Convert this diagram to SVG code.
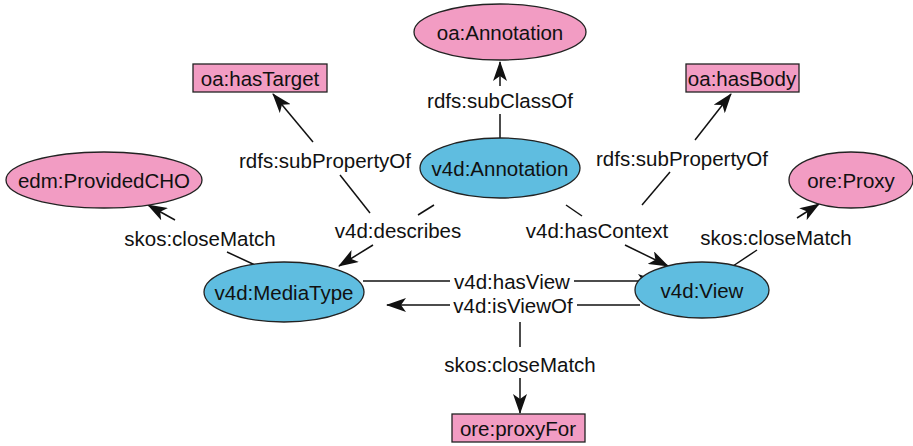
<svg xmlns="http://www.w3.org/2000/svg" width="913" height="446" viewBox="0 0 913 446">
<style>
text{font-family:"Liberation Sans",Arial,sans-serif;font-size:20.5px;fill:#111;text-anchor:middle;dominant-baseline:central}
.pink{fill:#f29cc3;stroke:#222;stroke-width:1.3}
.blue{fill:#5fbde0;stroke:#222;stroke-width:1.3}
.e{stroke:#111;stroke-width:1.5;fill:none}
.a{marker-end:url(#ah)}
</style>
<defs>
<marker id="ah" viewBox="0 0 20 14" refX="19" refY="7" markerWidth="20" markerHeight="14" markerUnits="userSpaceOnUse" orient="auto">
<path d="M0,0 L20,7 L0,14 L5,7 Z" fill="#111"/>
</marker>
</defs>
<g id="connectors">
<line class="e" x1="500" y1="138" x2="500" y2="114"/>
<line class="e a" x1="500" y1="86" x2="500" y2="62"/>
<text x="500" y="100">rdfs:subClassOf</text>
<line class="e" x1="434" y1="205" x2="418" y2="215"/>
<line class="e a" x1="373" y1="245" x2="339" y2="266"/>
<text x="398" y="230">v4d:describes</text>
<line class="e" x1="370" y1="213" x2="340" y2="175"/>
<line class="e a" x1="313" y1="142" x2="273" y2="94"/>
<text x="325" y="160">rdfs:subPropertyOf</text>
<line class="e" x1="566" y1="205" x2="582" y2="216"/>
<line class="e a" x1="625" y1="245" x2="668" y2="266"/>
<text x="597" y="230">v4d:hasContext</text>
<line class="e" x1="642" y1="205" x2="670" y2="172"/>
<line class="e a" x1="695" y1="140" x2="731" y2="94"/>
<text x="682" y="158">rdfs:subPropertyOf</text>
<line class="e" x1="255" y1="265" x2="227" y2="252"/>
<line class="e a" x1="175" y1="220" x2="148" y2="205"/>
<text x="200" y="238">skos:closeMatch</text>
<line class="e" x1="733" y1="266" x2="757" y2="250"/>
<line class="e a" x1="797" y1="218" x2="819" y2="204"/>
<text x="776" y="237">skos:closeMatch</text>
<line class="e" x1="363" y1="281" x2="450" y2="281"/>
<line class="e a" x1="574" y1="281" x2="657" y2="281"/>
<text x="512" y="281">v4d:hasView</text>
<line class="e" x1="640" y1="305" x2="577" y2="305"/>
<line class="e a" x1="450" y1="305" x2="387" y2="305"/>
<text x="513" y="305">v4d:isViewOf</text>
<line class="e" x1="520" y1="322" x2="520" y2="347"/>
<line class="e a" x1="520" y1="378" x2="520" y2="413"/>
<text x="520" y="364">skos:closeMatch</text>
</g>
<g id="oa-Annotation"><ellipse class="pink" cx="500" cy="32" rx="86" ry="28"/><text x="500" y="32">oa:Annotation</text></g>
<g id="v4d-Annotation"><ellipse class="blue" cx="500" cy="168" rx="80" ry="30"/><text x="500" y="168">v4d:Annotation</text></g>
<g id="oa-hasTarget"><rect class="pink" x="193" y="64" width="134" height="28"/><text x="260" y="78">oa:hasTarget</text></g>
<g id="oa-hasBody"><rect class="pink" x="686" y="64" width="113" height="28"/><text x="742" y="78">oa:hasBody</text></g>
<g id="edm-ProvidedCHO"><ellipse class="pink" cx="104" cy="180" rx="98" ry="28"/><text x="104" y="180">edm:ProvidedCHO</text></g>
<g id="ore-Proxy"><ellipse class="pink" cx="851" cy="180" rx="62" ry="28"/><text x="851" y="180">ore:Proxy</text></g>
<g id="v4d-MediaType"><ellipse class="blue" cx="284" cy="292" rx="80" ry="30"/><text x="284" y="292">v4d:MediaType</text></g>
<g id="v4d-View"><ellipse class="blue" cx="702" cy="290" rx="67" ry="28"/><text x="702" y="290">v4d:View</text></g>
<g id="ore-proxyFor"><rect class="pink" x="452" y="414" width="133" height="28"/><text x="518" y="428">ore:proxyFor</text></g>
</svg>
